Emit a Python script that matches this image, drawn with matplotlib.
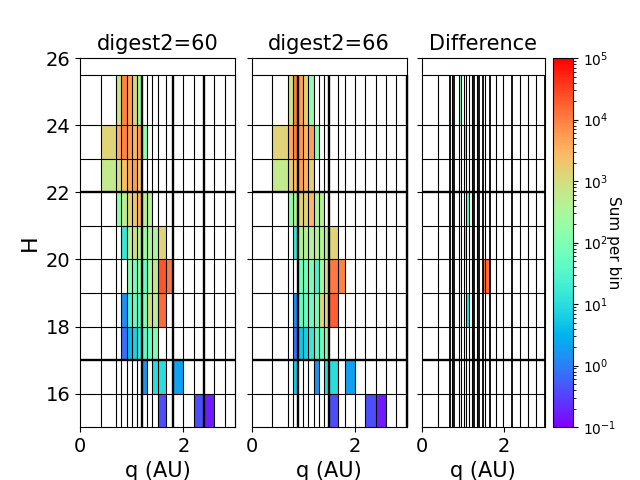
import numpy as np
import matplotlib
matplotlib.use("Agg")
import matplotlib.pyplot as plt
from matplotlib.colors import LogNorm

# bin edges
h_edges = [15, 16, 17, 18, 19, 20, 21, 22, 23, 24, 25.5]
q_edges = [0, 0.4, 0.7, 0.8, 0.9, 1.0, 1.1, 1.2, 1.3, 1.4, 1.5, 1.67,
           1.8, 2.0, 2.2, 2.4, 2.6, 2.8, 3.0]
q_edges_diff = [0, 0.39, 0.68, 0.73, 0.79, 0.90, 0.96, 1.02, 1.08, 1.16,
                1.22, 1.28, 1.34, 1.40, 1.49, 1.55, 1.66, 1.80, 1.98, 2.19,
                2.39, 2.59, 2.79, 3.0]

# edges that render heavier in each panel
thick_q = [[1.2, 1.8, 2.4], [0.9, 1.5, 3.0],
           [0.68, 0.79, 1.28, 1.40, 1.49, 1.66, 2.19, 3.0]]
thick_h = [17, 22]

# cell sums: {row index: {col index: value}}
cells_60 = {
    0: {10: 0.4, 14: 0.4, 15: 0.17},
    1: {7: 1.5, 9: 10, 10: 10, 12: 2},
    2: {3: 0.75, 4: 4, 5: 7, 6: 15, 7: 40, 8: 57, 9: 100},
    3: {3: 1.4, 4: 25, 5: 57, 6: 40, 7: 100, 8: 1000, 9: 500, 10: 15000},
    4: {4: 150, 5: 80, 6: 150, 7: 50, 8: 250, 9: 700, 10: 23000, 11: 11000},
    5: {3: 15, 4: 500, 5: 900, 6: 500, 7: 230, 8: 350, 9: 350, 10: 1400},
    6: {2: 150, 3: 500, 4: 1400, 5: 2000, 6: 3500, 7: 500, 8: 350},
    7: {1: 600, 2: 900, 3: 2500, 4: 4000, 5: 5000, 6: 1800},
    8: {1: 1400, 2: 4000, 3: 9000, 4: 6000, 5: 3000, 6: 5000, 7: 150},
    9: {2: 700, 3: 9000, 4: 5000, 5: 1400, 6: 150},
}
cells_66 = {
    0: {10: 0.4, 14: 0.4, 15: 0.17},
    1: {3: 6, 7: 1.5, 9: 10, 10: 10, 12: 2},
    2: {3: 0.75, 4: 5, 5: 7, 6: 15, 7: 40, 8: 57, 9: 100},
    3: {3: 1.4, 4: 50, 5: 57, 6: 57, 7: 80, 8: 1400, 9: 1400, 10: 18000},
    4: {4: 80, 5: 80, 6: 80, 7: 25, 8: 300, 9: 900, 10: 11000, 11: 9000},
    5: {3: 15, 4: 400, 5: 400, 6: 400, 7: 400, 8: 400, 9: 350, 10: 1400},
    6: {2: 150, 3: 500, 4: 1400, 5: 1400, 6: 3000, 7: 400, 8: 400},
    7: {1: 600, 2: 1500, 3: 3000, 4: 5000, 5: 3000, 6: 1500},
    8: {1: 1400, 2: 4000, 3: 9000, 4: 6000, 5: 3000, 6: 5000, 7: 150},
    9: {2: 700, 3: 10000, 4: 5000, 5: 1400, 6: 150},
}
cells_diff = {
    2: {10: 4},
    3: {8: 15, 10: 15},
    4: {10: 25, 14: 15000, 15: 15000},
    5: {7: 60, 10: 40},
    6: {8: 60},
    7: {3: 150},
    8: {7: 2000},
    9: {5: 100},
}


def to_grid(cells, qe, he):
    z = np.full((len(he) - 1, len(qe) - 1), np.nan)
    for r, row in cells.items():
        for c, v in row.items():
            z[r, c] = v
    return np.ma.masked_invalid(z)


norm = LogNorm(vmin=1e-1, vmax=1e5)
fig = plt.figure(figsize=(6.4, 4.8), dpi=100)
bottom, height = 0.11, 0.769
axes = [fig.add_axes([0.125, bottom, 0.2422, height]),
        fig.add_axes([0.393, bottom, 0.2422, height]),
        fig.add_axes([0.6586, bottom, 0.193, height])]
cax = fig.add_axes([0.864, bottom, 0.031, height])

panels = [("digest2=60", cells_60, q_edges),
          ("digest2=66", cells_66, q_edges),
          ("Difference", cells_diff, q_edges_diff)]

for i, (ax, (title, cells, qe)) in enumerate(zip(axes, panels)):
    z = to_grid(cells, qe, h_edges)
    mesh = ax.pcolormesh(qe, h_edges, z, cmap="rainbow", norm=norm)
    heavy = 1.7 if i < 2 else 1.3
    for q in qe[1:]:
        lw = heavy if any(abs(q - t) < 1e-6 for t in thick_q[i]) else 0.8
        ax.vlines(q, h_edges[0], h_edges[-1], colors="k", lw=lw, clip_on=False)
    for h in h_edges[1:]:
        lw = 1.7 if h in thick_h else 0.8
        ax.hlines(h, 0, 3, colors="k", lw=lw)
    ax.set_xlim(0, 3)
    ax.set_ylim(15, 26)
    ax.set_xticks([0, 2])
    ax.set_yticks([16, 18, 20, 22, 24, 26])
    ax.tick_params(labelsize=14)
    ax.set_title(title, fontsize=15)
    ax.set_xlabel("q (AU)", fontsize=15)
    if i > 0:
        ax.set_yticklabels([])

axes[0].set_ylabel("H", fontsize=16)

cb = fig.colorbar(mesh, cax=cax)
cb.set_label("Sum per bin", rotation=270, fontsize=11, labelpad=4)
cb.ax.tick_params(labelsize=10)

fig.savefig("out.png", dpi=100)
